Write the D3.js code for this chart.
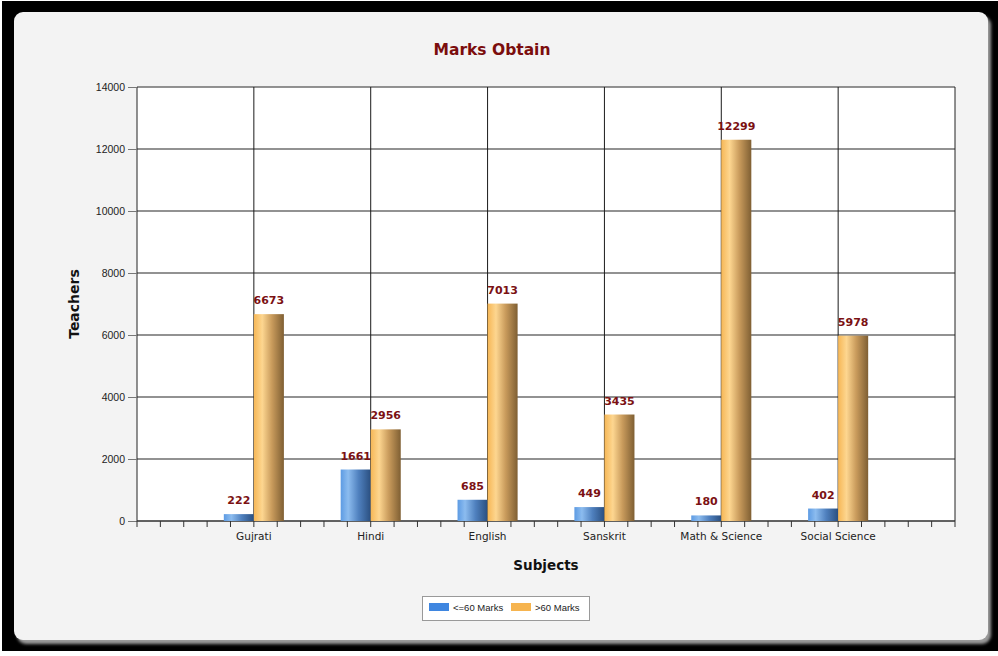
<!DOCTYPE html>
<html>
<head>
<meta charset="utf-8">
<script src="https://cdn.jsdelivr.net/npm/d3@7"></script>
<style>
  html, body { margin: 0; padding: 0; background: #ffffff; }
  svg { display: block; }
</style>
</head>
<body>
<svg id="chart" width="998" height="656"></svg>
<script>
// Subjects and teacher counts per marks band
const subjects = ["Gujrati", "Hindi", "English", "Sanskrit", "Math & Science", "Social Science"];
const lowMarks = [222, 1661, 685, 449, 180, 402];      // <=60 Marks
const highMarks = [6673, 2956, 7013, 3435, 12299, 5978]; // >60 Marks
const seriesNames = ["<=60 Marks", ">60 Marks"];
const yTicks = [0, 2000, 4000, 6000, 8000, 10000, 12000, 14000];

const svg = d3.select("#chart");
const W = 998, H = 656;
const plot = { left: 137, right: 955, top: 87, bottom: 521 };

// Frame and panel
svg.append("rect").attr("x", 2).attr("y", 1).attr("width", W - 2).attr("height", 650).attr("fill", "#000");

const defs = svg.append("defs");
const shadow = defs.append("filter").attr("id", "shadow").attr("x", "-5%").attr("y", "-5%").attr("width", "110%").attr("height", "110%");
shadow.append("feGaussianBlur").attr("in", "SourceAlpha").attr("stdDeviation", 1.5).attr("result", "blur");
shadow.append("feOffset").attr("in", "blur").attr("dx", 3).attr("dy", 4).attr("result", "off");
shadow.append("feFlood").attr("flood-color", "#9a9a9a").attr("result", "col");
shadow.append("feComposite").attr("in", "col").attr("in2", "off").attr("operator", "in").attr("result", "sh");
const merge = shadow.append("feMerge");
merge.append("feMergeNode").attr("in", "sh");
merge.append("feMergeNode").attr("in", "SourceGraphic");

svg.append("rect").attr("x", 14).attr("y", 12).attr("width", 974).attr("height", 628)
  .attr("rx", 9).attr("fill", "#f3f3f3").attr("filter", "url(#shadow)");

// Bar gradients
function barGradient(id, stops) {
  const g = defs.append("linearGradient").attr("id", id).attr("x1", "0%").attr("x2", "100%").attr("y1", "0%").attr("y2", "0%");
  stops.forEach(s => g.append("stop").attr("offset", s[0]).attr("stop-color", s[1]));
}
barGradient("gBlue", [["0%", "#5d9be3"], ["25%", "#8cbcef"], ["60%", "#4f80be"], ["100%", "#2a4f80"]]);
barGradient("gOrange", [["0%", "#f6b756"], ["28%", "#fdd690"], ["60%", "#c99b5c"], ["100%", "#7f5f33"]]);

// Scales
const x = d3.scalePoint().domain(subjects).range([plot.left, plot.right]).padding(1);
const step = x.step();
const y = d3.scaleLinear().domain([0, 14000]).range([plot.bottom, plot.top]);
const barW = step * 0.257;

// Plot background
svg.append("rect").attr("x", plot.left).attr("y", plot.top)
  .attr("width", plot.right - plot.left).attr("height", plot.bottom - plot.top).attr("fill", "#fff");

// Horizontal gridlines
svg.append("g").selectAll("line").data(yTicks).join("line")
  .attr("x1", plot.left).attr("x2", plot.right)
  .attr("y1", d => y(d)).attr("y2", d => y(d))
  .attr("stroke", "#6e6e6e").attr("stroke-width", 1.5);

// Vertical gridlines at each subject
svg.append("g").selectAll("line").data(subjects).join("line")
  .attr("x1", d => x(d)).attr("x2", d => x(d))
  .attr("y1", plot.top).attr("y2", plot.bottom)
  .attr("stroke", "#1a1a1a").attr("stroke-width", 1);

// Plot edges
svg.append("line").attr("x1", plot.left).attr("x2", plot.left).attr("y1", plot.top).attr("y2", plot.bottom).attr("stroke", "#222");
svg.append("line").attr("x1", plot.right).attr("x2", plot.right).attr("y1", plot.top).attr("y2", plot.bottom).attr("stroke", "#222");

// Y axis
const yAxis = svg.append("g").attr("transform", `translate(${plot.left},0)`)
  .call(d3.axisLeft(y).tickValues(yTicks).tickSize(9).tickPadding(3).tickFormat(d3.format("d")));
yAxis.select(".domain").remove();
yAxis.selectAll(".tick line").attr("stroke", "#777");
yAxis.selectAll("text").attr("font-family", "Liberation Sans, Arial, sans-serif").attr("font-size", "10.5px").attr("fill", "#222");

// X axis: minor ticks every fifth of a category step
const xMinor = d3.scaleLinear().domain([0, 7]).range([plot.left, plot.right]);
const minorVals = d3.range(0, 7.0001, 0.2);
svg.append("g").selectAll("line").data(minorVals).join("line")
  .attr("x1", d => xMinor(d)).attr("x2", d => xMinor(d))
  .attr("y1", plot.bottom).attr("y2", plot.bottom + 6)
  .attr("stroke", "#333");
svg.append("line").attr("x1", plot.left).attr("x2", plot.right).attr("y1", plot.bottom).attr("y2", plot.bottom).attr("stroke", "#333");

svg.append("g").selectAll("text").data(subjects).join("text")
  .attr("x", d => x(d)).attr("y", plot.bottom + 19)
  .attr("text-anchor", "middle")
  .attr("font-family", "DejaVu Sans, sans-serif").attr("font-size", "10.5px").attr("fill", "#222")
  .text(d => d);

// Bars
const bars = svg.append("g");
bars.selectAll("rect.low").data(subjects).join("rect").attr("class", "low")
  .attr("x", d => x(d) - barW).attr("width", barW)
  .attr("y", (d, i) => y(lowMarks[i])).attr("height", (d, i) => y(0) - y(lowMarks[i]))
  .attr("fill", "url(#gBlue)");
bars.selectAll("rect.high").data(subjects).join("rect").attr("class", "high")
  .attr("x", d => x(d)).attr("width", barW)
  .attr("y", (d, i) => y(highMarks[i])).attr("height", (d, i) => y(0) - y(highMarks[i]))
  .attr("fill", "url(#gOrange)");

// Value labels
const labelStyle = sel => sel.attr("text-anchor", "middle")
  .attr("font-family", "DejaVu Sans, sans-serif").attr("font-weight", "bold")
  .attr("font-size", "11px").attr("fill", "#7b1113");
svg.append("g").selectAll("text").data(subjects).join("text")
  .attr("x", d => x(d) - barW / 2).attr("y", (d, i) => y(lowMarks[i]) - 10)
  .call(labelStyle).text((d, i) => lowMarks[i]);
svg.append("g").selectAll("text").data(subjects).join("text")
  .attr("x", d => x(d) + barW / 2).attr("y", (d, i) => y(highMarks[i]) - 10)
  .call(labelStyle).text((d, i) => highMarks[i]);

// Titles
svg.append("text").attr("x", 492).attr("y", 55).attr("text-anchor", "middle")
  .attr("font-family", "DejaVu Sans, sans-serif").attr("font-weight", "bold").attr("font-size", "15.5px")
  .attr("fill", "#7b0d0d").text("Marks Obtain");
svg.append("text").attr("transform", "translate(79,304) rotate(-90)").attr("text-anchor", "middle")
  .attr("font-family", "DejaVu Sans, sans-serif").attr("font-weight", "bold").attr("font-size", "14px")
  .attr("fill", "#111").text("Teachers");
svg.append("text").attr("x", 546).attr("y", 570).attr("text-anchor", "middle")
  .attr("font-family", "DejaVu Sans, sans-serif").attr("font-weight", "bold").attr("font-size", "13.5px")
  .attr("fill", "#111").text("Subjects");

// Legend
const legend = svg.append("g");
legend.append("rect").attr("x", 422.5).attr("y", 596.5).attr("width", 167).attr("height", 24)
  .attr("fill", "#fff").attr("stroke", "#999");
const legendColors = ["#3f86e0", "#f6b44f"];
const legendX = [429, 511];
seriesNames.forEach((name, i) => {
  legend.append("rect").attr("x", legendX[i]).attr("y", 603).attr("width", 20).attr("height", 8).attr("fill", legendColors[i]);
  legend.append("text").attr("x", legendX[i] + 24).attr("y", 611)
    .attr("font-family", "Liberation Sans, Arial, sans-serif").attr("font-size", "9.5px").attr("fill", "#222")
    .text(name);
});
</script>
</body>
</html>
